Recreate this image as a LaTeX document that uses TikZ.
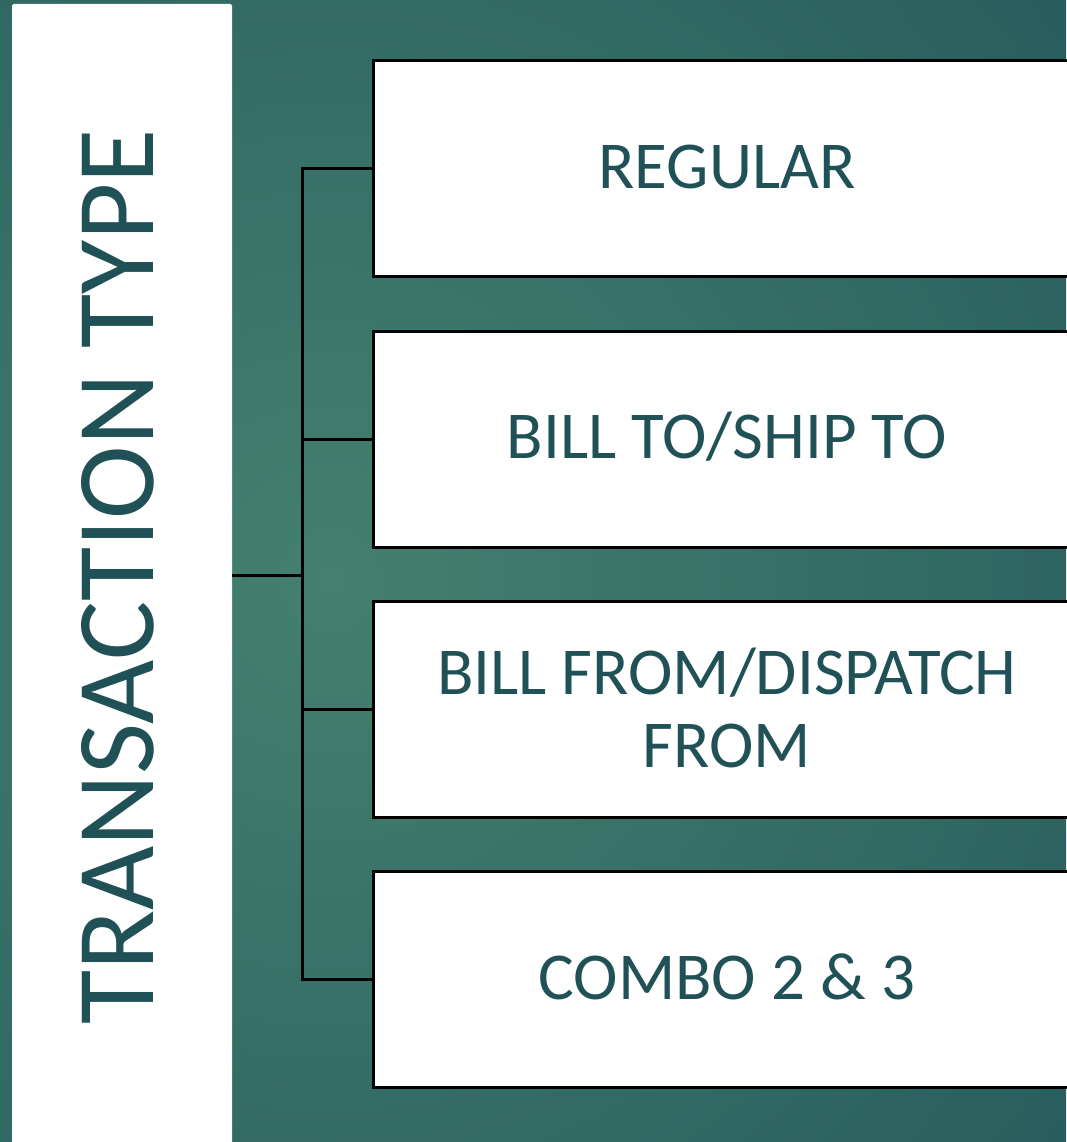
\documentclass[tikz,border=0pt]{standalone}
\usepackage{fontspec}
\setmainfont{Carlito}
\definecolor{tealtext}{HTML}{1F5156}
\definecolor{bginner}{HTML}{44806F}
\definecolor{bgouter}{HTML}{1E5257}
\begin{document}
\begin{tikzpicture}[x=1pt,y=-1pt,
  typebox/.style={draw=black,line width=3pt,fill=white,rectangle,inner sep=0pt},
  label/.style={text=tealtext,font=\fontsize{67}{73}\selectfont,align=center},
  link/.style={draw=black,line width=3pt}]
  % background with soft radial glow
  \useasboundingbox (0,0) rectangle (1066,1142);
  \begin{scope}
    \clip (0,0) rectangle (1066,1142);
    \shade[inner color=bginner,outer color=bgouter] (330,580) circle[radius=1250];
  \end{scope}
  % heading column
  \fill[white,rounded corners=2pt] (12,4) rectangle (232,1160);
  \node[text=tealtext,font=\fontsize{111}{113}\selectfont,rotate=90] (head) at (118,577) {TRANSACTION TYPE};
  \coordinate (headR) at (232,575);
  % option boxes
  \draw[typebox] (373,61) rectangle (1090,276);
  \draw[typebox] (373,331) rectangle (1090,547);
  \draw[typebox] (373,601) rectangle (1090,817);
  \draw[typebox] (373,871) rectangle (1090,1087);
  \node[label] (t1) at (727,167) {REGULAR};
  \node[label] (t2) at (727,437) {BILL TO/SHIP TO};
  \node[label] (t3) at (727,708) {BILL FROM/DISPATCH\\FROM};
  \node[label] (t4) at (727,977) {COMBO 2 \& 3};
  \coordinate (b1) at (373,169);
  \coordinate (b2) at (373,439);
  \coordinate (b3) at (373,709);
  \coordinate (b4) at (373,979);
  \coordinate (spine) at (302,575);
  % connector tree
  \draw[link] (headR) -- (spine);
  \draw[link] (b1) -| (302,979) -- (b4);
  \draw[link] (302,439) -- (b2);
  \draw[link] (302,709) -- (b3);
\end{tikzpicture}
\end{document}
